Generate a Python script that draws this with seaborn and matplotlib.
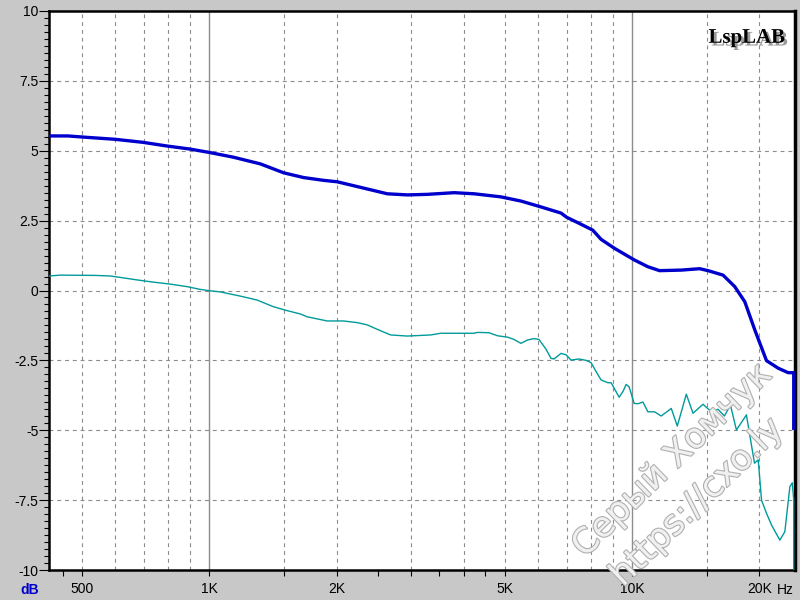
import matplotlib
matplotlib.use("Agg")
import matplotlib.pyplot as plt
import matplotlib.patheffects as pe
from matplotlib.ticker import FixedLocator, FixedFormatter, MultipleLocator, NullLocator, FuncFormatter
import seaborn as sns
import pandas as pd

# ---- data ----
blue_freq = [418, 463, 513, 599, 698, 794, 901, 1000, 1140, 1321, 1500, 1673, 1866,
             2007, 2279, 2637, 2941, 3281, 3793, 4230, 4893, 5458, 6087, 6789, 7000,
             7570, 8069, 8443, 9080, 10127, 10894, 11606, 13068, 14438, 15117, 16402,
             17478, 18460, 19496, 20777, 22143, 23383, 24100, 24100]
blue_db = [5.53, 5.53, 5.48, 5.41, 5.30, 5.17, 5.06, 4.94, 4.77, 4.53, 4.21, 4.04, 3.94,
           3.89, 3.69, 3.46, 3.42, 3.44, 3.50, 3.46, 3.35, 3.20, 2.99, 2.77, 2.62,
           2.37, 2.16, 1.83, 1.51, 1.09, 0.85, 0.71, 0.73, 0.78, 0.71, 0.55,
           0.14, -0.40, -1.41, -2.51, -2.78, -2.94, -2.94, -4.93]

teal_freq = [419, 444, 537, 583, 615, 674, 737, 808, 885, 952, 1004, 1062, 1184, 1297,
             1418, 1528, 1643, 1704, 1900, 2077, 2239, 2364, 2497, 2685, 2941, 3340,
             3527, 4223, 4309, 4583, 4806, 5076, 5254, 5458, 5660, 5859, 6021, 6256,
             6429, 6536, 6789, 6977, 7170, 7488, 7780, 7994, 8216, 8443, 8758, 8918,
             9316, 9521, 9678, 9837, 10109, 10332, 10601, 10894, 11292, 11715, 12373,
             12785, 13428, 13926, 14706, 15387, 15961, 16520, 17075, 17640, 18627,
             18940, 19463, 19862, 20223, 20777, 21353, 22344, 22960, 23597, 23906,
             24100, 24100]
teal_db = [0.52, 0.55, 0.54, 0.52, 0.47, 0.38, 0.30, 0.23, 0.14, 0.04, -0.01, -0.05,
           -0.20, -0.34, -0.58, -0.72, -0.84, -0.94, -1.09, -1.09, -1.15, -1.23, -1.39,
           -1.59, -1.63, -1.59, -1.53, -1.53, -1.50, -1.51, -1.62, -1.67, -1.75, -1.89,
           -1.77, -1.72, -1.75, -2.10, -2.43, -2.45, -2.25, -2.30, -2.49, -2.45, -2.50,
           -2.58, -2.90, -3.20, -3.30, -3.30, -3.82, -3.60, -3.36, -3.45, -4.04, -4.05,
           -3.99, -4.34, -4.34, -4.49, -4.22, -4.85, -3.71, -4.39, -4.07, -4.34, -4.25,
           -4.49, -4.10, -4.99, -4.45, -5.11, -6.18, -6.06, -7.50, -7.97, -8.39, -8.93,
           -8.63, -7.02, -6.88, -7.50, -10.0]

x_tick_pos = [450, 500, 1000, 1500, 2000, 2500, 3000, 3500, 4000, 4500, 5000, 10000, 15000, 20000]
x_tick_lab = ["", "500", "1K", "", "2K", "", "", "", "", "", "5K", "10K", "", "20K"]
grid_dashed = [500, 600, 700, 800, 900, 1500, 2000, 3000, 4000, 5000, 6000, 7000,
               8000, 9000, 15000, 20000]
grid_solid = [1000, 10000]
y_grid = [-7.5, -5, -2.5, 0, 2.5, 5, 7.5]

BLUE = "#0000cc"
TEAL = "#009a9a"
BG = "#c8c8c8"

plt.rcParams['font.family'] = ['Liberation Sans', 'DejaVu Sans']

fig = plt.figure(figsize=(8, 6), dpi=100, facecolor=BG)
ax = fig.add_axes([49 / 800, 30 / 600, (794.5 - 49) / 800, 559 / 600])
ax.set_facecolor("white")
ax.set_xscale("log")
ax.set_xlim(418, 24200)
ax.set_ylim(-10, 10)

for g in grid_dashed:
    ax.axvline(g, color="#8c8c8c", lw=0.8, ls=(0, (3.5, 3.5)), zorder=1)
for g in grid_solid:
    ax.axvline(g, color="#8c8c8c", lw=1.0, zorder=1)
for g in y_grid:
    ax.axhline(g, color="#8c8c8c", lw=0.8, ls=(0, (3.5, 3.5)), zorder=1)

df_t = pd.DataFrame({"f": teal_freq, "db": teal_db})
df_b = pd.DataFrame({"f": blue_freq, "db": blue_db})
sns.lineplot(data=df_t, x="f", y="db", ax=ax, color=TEAL, lw=1.0,
             estimator=None, sort=False, zorder=3)
sns.lineplot(data=df_b, x="f", y="db", ax=ax, color=BLUE, lw=2.4,
             estimator=None, sort=False, zorder=4)

ax.set_xlabel("")
ax.set_ylabel("")

ax.xaxis.set_major_locator(FixedLocator(x_tick_pos))
ax.xaxis.set_major_formatter(FixedFormatter(x_tick_lab))
ax.xaxis.set_minor_locator(NullLocator())
ax.yaxis.set_major_locator(MultipleLocator(2.5))
ax.yaxis.set_minor_locator(MultipleLocator(0.25))
ax.yaxis.set_major_formatter(FuncFormatter(lambda v, p: f"{v:g}"))

ax.tick_params(axis="x", which="major", direction="out", length=4.5, width=0.8,
               labelsize=10, pad=4, colors="black")
ax.tick_params(axis="y", which="major", direction="out", length=7, width=0.8,
               labelsize=10, pad=0.5, colors="black")
ax.tick_params(axis="y", which="minor", direction="out", length=3.5, width=0.8)

for s in ["left", "bottom", "top", "right"]:
    ax.spines[s].set_color("black")
    ax.spines[s].set_linewidth(1.8)
ax.spines["right"].set_linewidth(2.5)

# annotations
fig.text(30 / 800, 1 - 590 / 600, "dB", color=BLUE, fontsize=10, fontweight="bold",
         ha="center", va="center")
fig.text(785 / 800, 1 - 590 / 600, "Hz", color="black", fontsize=10,
         ha="center", va="center")

# LspLAB logo with shadow
ax.text(0.988, 0.970, "LspLAB", transform=ax.transAxes, ha="right", va="top",
        fontsize=15, fontweight="bold", family="Liberation Serif", color="black",
        path_effects=[pe.SimplePatchShadow(offset=(2, -2), shadow_rgbFace="#9a9a9a",
                                           alpha=1.0), pe.Normal()],
        zorder=6)

# watermark
wm_fx = [pe.withStroke(linewidth=1.6, foreground="#b0b0b0")]
fig.text(672 / 800, 1 - 460 / 600, "Серый Хомчук", rotation=44, rotation_mode="anchor",
         ha="center", va="center", fontsize=25, color="#f0f0f0",
         family="DejaVu Sans", path_effects=wm_fx, zorder=10)
fig.text(697 / 800, 1 - 502 / 600, "https://cxo.ly", rotation=44, rotation_mode="anchor",
         ha="center", va="center", fontsize=25, color="#f0f0f0",
         family="DejaVu Sans", path_effects=wm_fx, zorder=10)

fig.savefig("out.png", dpi=100, facecolor=BG)
